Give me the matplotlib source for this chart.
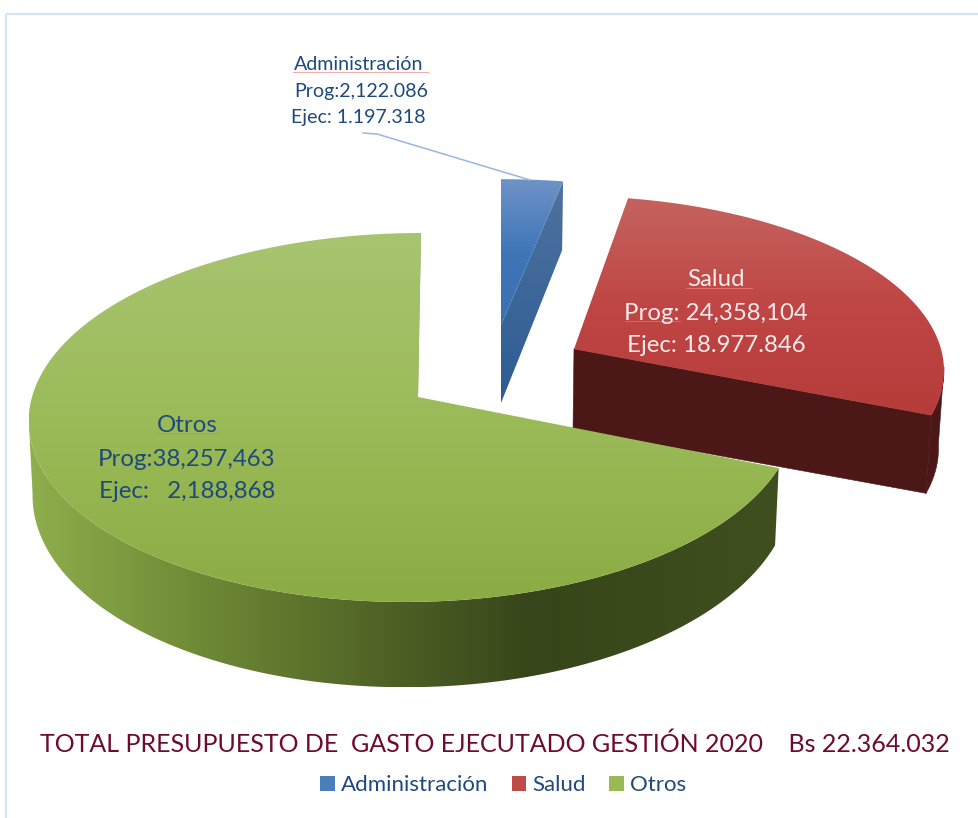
import numpy as np
import matplotlib
matplotlib.use("Agg")
import matplotlib.pyplot as plt
from matplotlib.colors import LinearSegmentedColormap as LSC
from matplotlib.patches import Polygon, Patch

categories = ["Administración", "Salud", "Otros"]
# slice shares (percent)
shares = [2.9, 28.2, 68.9]
legend_colors = ["#4A7EBB", "#BE4B48", "#98B954"]
label_admin = ["Administración", "Prog:2,122.086", "Ejec: 1.197.318"]
label_salud = ["Salud", "Prog: 24,358,104", "Ejec: 18.977.846"]
label_otros = ["Otros", "Prog:38,257,463", "Ejec:   2,188,868"]
title = "TOTAL PRESUPUESTO DE  GASTO EJECUTADO GESTIÓN 2020    Bs 22.364.032"

W, H = 979, 818
FONT = "Lato"
plt.rcParams["font.family"] = [FONT, "DejaVu Sans"]
fig = plt.figure(figsize=(W / 100, H / 100), dpi=100, facecolor="white")
ax = fig.add_axes([0, 0, 1, 1])
ax.set_xlim(0, W)
ax.set_ylim(H, 0)
ax.axis("off")

K = 0.111
edges = np.cumsum([0] + shares) / sum(shares) * 2 * np.pi


def arc(a0, a1, apex, R, B, dx=0.0, shear=0.0, sx=1.0, sy=1.0, depth=0.0, n=200):
    th = np.linspace(a0, a1, n)
    t = np.cos(th)
    s = 1 + K * t
    x = apex[0] + sx * (R * np.sin(th) / s + dx + shear * t)
    y = apex[1] + depth - sy * (B * t / s)
    return np.column_stack([x, y])


def grad(poly, stops, vertical=True, z=1):
    """Fill polygon with linear gradient through an image clipped to it."""
    poly = np.asarray(poly)
    x0, x1 = poly[:, 0].min(), poly[:, 0].max()
    y0, y1 = poly[:, 1].min(), poly[:, 1].max()
    cmap = LSC.from_list("g", stops)
    ramp = np.linspace(0, 1, 256)
    img = ramp[:, None] if vertical else ramp[None, :]
    im = ax.imshow(img, cmap=cmap, vmin=0, vmax=1, extent=(x0, x1, y1, y0),
                   aspect="auto", zorder=z, interpolation="bilinear")
    p = Polygon(poly, closed=True, facecolor="none", edgecolor="none",
                transform=ax.transData, zorder=z)
    ax.add_patch(p)
    im.set_clip_path(p)


# ---------- Salud ----------
ra, rb = edges[1], edges[2]
ap = (574, 349)
kw = dict(R=367, B=170, shear=-6)
top = arc(ra, rb, ap, **kw)
ap_b = (ap[0] - 1, ap[1] + 80)
tip_b = arc(rb, rb, ap, sx=0.985, depth=78, n=1, **kw)[0]
side_top = arc(np.radians(96), rb, ap, **kw)
side_bot = arc(np.radians(96), rb, ap, sx=0.985, depth=78, **kw)
ax.add_patch(Polygon(np.vstack([side_top, side_bot[::-1]]), closed=True,
                     facecolor="#4C1817", edgecolor="#4C1817", lw=0.4, zorder=1))
ax.add_patch(Polygon(np.array([ap, top[-1], tip_b, ap_b]), closed=True,
                     facecolor="#4C1817", edgecolor="#4C1817", lw=0.4, zorder=2))
grad(np.vstack([[ap], top]), ["#C5635F", "#BF4644", "#B63C3A"], True, 3)

# ---------- Administración ----------
ba, bb = edges[0], edges[1]
ap = (501, 325)
kw = dict(R=380, B=162)
top = arc(ba, bb, ap, **kw)
ap_b = (ap[0], ap[1] + 78)
end_b = (top[-1][0] - 1, top[-1][1] + 69)
grad(np.array([ap, top[-1], end_b, ap_b]), ["#4F729F", "#2C5C94"], True, 2)
grad(np.vstack([[ap], top]), ["#6E93C6", "#3F76B8", "#3A70B0"], True, 3)

# ---------- Otros ----------
ga, gb = edges[2], edges[3]
ap = (418, 397)
kw = dict(R=381, B=182.2, dx=-5, shear=8)
top = arc(ga, gb, ap, **kw)
side_end = np.radians(263)
side_top = arc(ga, side_end, ap, **kw)
side_bot = arc(ga, side_end, ap, sx=0.99, sy=1.06, depth=73, **kw)
grad(np.vstack([side_top, side_bot[::-1]]),
     [(0.0, "#8FAE4C"), (0.225, "#6E8A36"), (0.49, "#4E5F24"),
      (0.67, "#37461A"), (1.0, "#3F4F1F")], False, 4)
strip = np.array([ap, top[-1], top[-1] + [-4, 0], np.array(ap) + [-4, 0]])
ax.add_patch(Polygon(strip, closed=True, facecolor="#87A34F", edgecolor="none", zorder=4))
grad(np.vstack([[ap], top]), ["#A8C470", "#9BBB59", "#8BAC43"], True, 5)

# ---------- leader line & frame ----------
ax.plot([363, 377, 530], [133, 134, 180], color="#95B8E3", lw=1.1, zorder=6)
ax.plot([6.5, 6.5], [H, 14], color="#D5E4F5", lw=1.6, zorder=0, solid_capstyle="butt")
ax.plot([6.5, W], [14, 14], color="#D5E4F5", lw=1.6, zorder=0, solid_capstyle="butt")


# ---------- labels ----------
def px(p):
    return p * 0.72


NAVY = "#1F497D"
for txt, x, y in zip(label_admin, [359, 361, 358], [65, 91, 117]):
    ax.text(x, y, txt, color=NAVY, fontsize=px(19.6), ha="center", va="center", zorder=8)
for txt, x, y in zip(label_salud, [716, 716, 716], [280, 313, 345]):
    ax.text(x, y, txt, color="#F6EAEA", fontsize=px(24), ha="center", va="center", zorder=8)
for txt, x, y in zip(label_otros, [187, 187, 187], [426, 459, 492]):
    ax.text(x, y, txt, color=NAVY, fontsize=px(24), ha="center", va="center", zorder=8)
ax.plot([293, 428], [71.5, 71.5], color="#F2A9A9", lw=0.7, zorder=7)
ax.plot([686, 752], [288, 288], color="#E87070", lw=0.7, zorder=7)
ax.plot([625, 681], [321, 321], color="#E87070", lw=0.5, zorder=7)
ax.plot([158, 217], [433, 433], color="#C8808A", lw=0.5, zorder=7)

ax.text(495, 744, title, color="#6E0A32", fontsize=px(25), ha="center", va="center", zorder=8)

handles = [Patch(facecolor=c, edgecolor="none") for c in legend_colors]
ax.legend(handles, categories, loc="center", bbox_to_anchor=(503 / W, 1 - 785 / H),
          ncol=3, frameon=False, fontsize=px(22.3), labelcolor=NAVY, handlelength=0.66,
          handleheight=0.66, handletextpad=0.27, columnspacing=1.05, borderpad=0)

fig.savefig("out.png", dpi=100, facecolor="white")
